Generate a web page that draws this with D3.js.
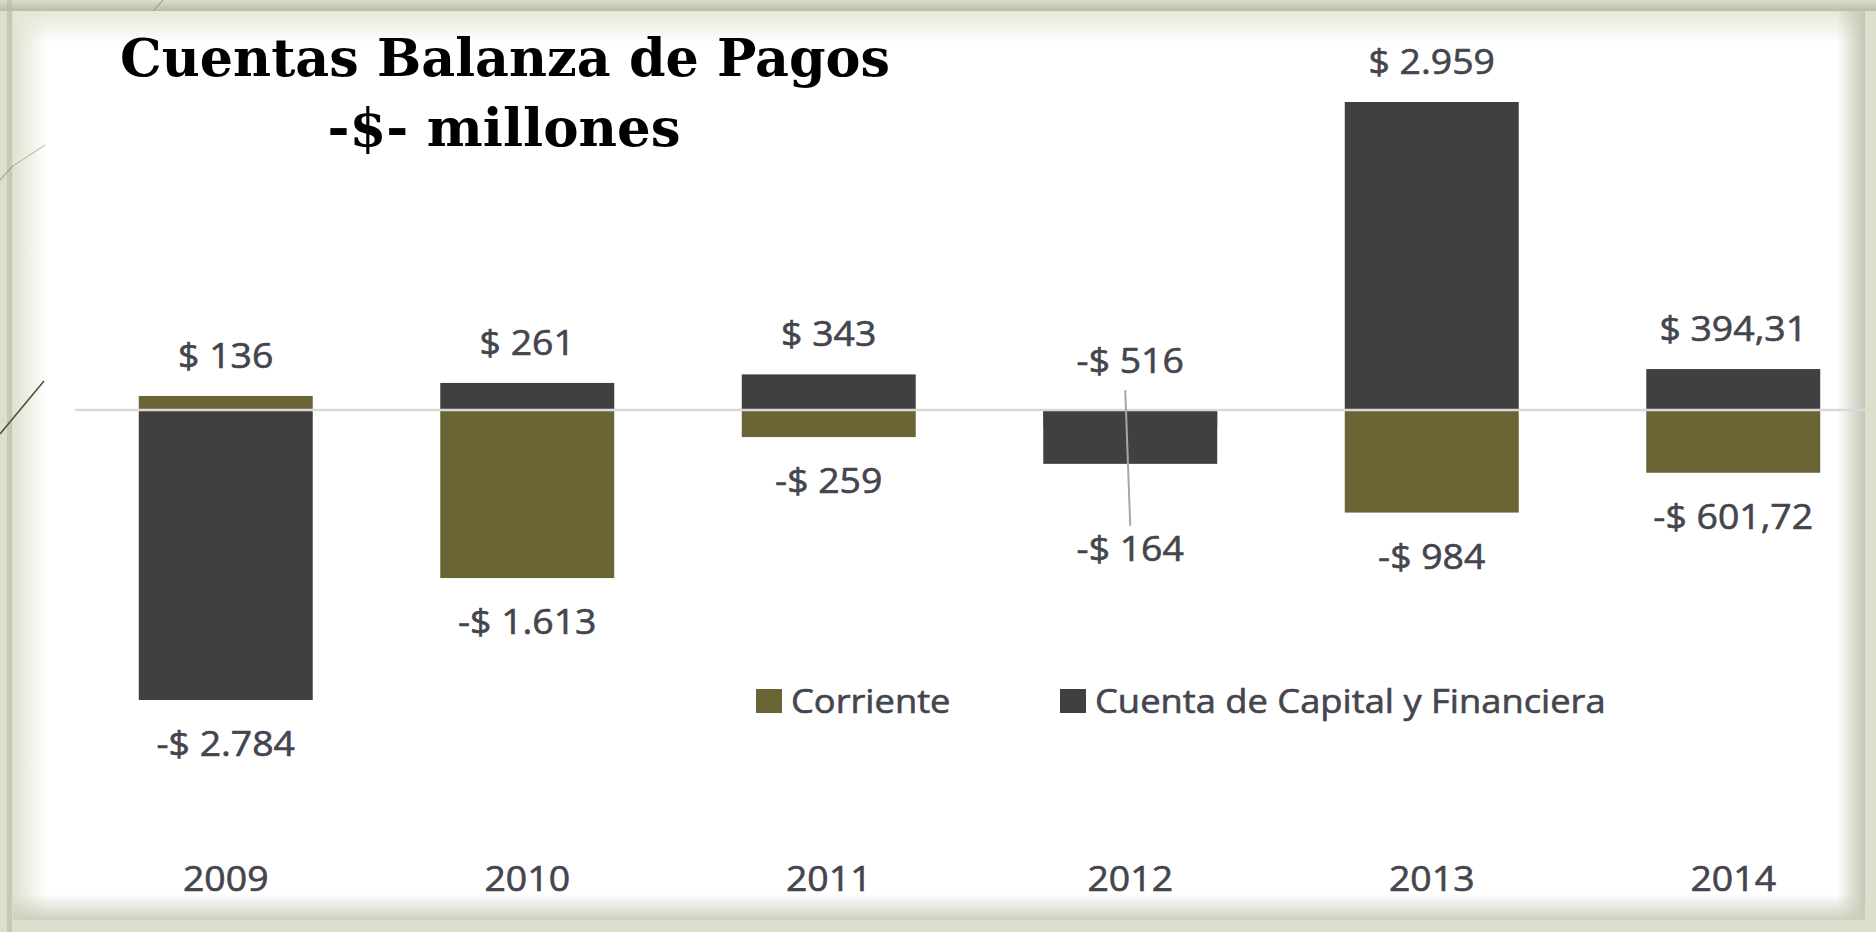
<!DOCTYPE html>
<html>
<head>
<meta charset="utf-8">
<script src="https://cdn.jsdelivr.net/npm/d3@7"></script>
<style>
html, body { margin: 0; padding: 0; background: #dcdfcc; }
svg { display: block; }
</style>
</head>
<body>
<svg id="chart"></svg>
<script>
var width = 1876;
var height = 932;

// chart values (millones de $)
var years = ["2009", "2010", "2011", "2012", "2013", "2014"];
var corriente = [136, -1613, -259, -164, -984, -601.72];
var capital = [-2784, 261, 343, -516, 2959, 394.31];
var seriesNames = ["Corriente", "Cuenta de Capital y Financiera"];
var seriesColors = ["#6b6535", "#404040"];

var svg = d3.select("#chart")
.attr("width", width)
.attr("height", height);

// frame + white panel with soft inner shadow
var defs = svg.append("defs");
function edgeGrad(id, x1, y1, x2, y2, c) {
	var g = defs.append("linearGradient").attr("id", id)
	.attr("x1", x1).attr("y1", y1).attr("x2", x2).attr("y2", y2);
	g.append("stop").attr("offset", "0%").attr("stop-color", c).attr("stop-opacity", 1);
	g.append("stop").attr("offset", "100%").attr("stop-color", c).attr("stop-opacity", 0);
}
edgeGrad("gl", 0, 0, 1, 0, "#dfe2d0");
edgeGrad("gt", 0, 0, 0, 1, "#e4e7d6");
edgeGrad("gr", 1, 0, 0, 0, "#c3c6b3");
edgeGrad("gb", 0, 1, 0, 0, "#cdd0be");
edgeGrad("gtop", 0, 1, 0, 0, "#b9bca6");

svg.append("rect").attr("width", width).attr("height", height).style("fill", "#dcdfcc");
svg.append("rect").attr("x", 0).attr("y", 0).attr("width", width).attr("height", 11)
.style("fill", "url(#gtop)");
svg.append("rect").attr("x", 7).attr("y", 0).attr("width", 5).attr("height", height)
.style("fill", "#b7baa5").style("opacity", 0.6);
svg.append("line").attr("x1", 163).attr("y1", 0).attr("x2", 0).attr("y2", 180)
.style("stroke", "#8a8a72").style("stroke-width", 1);

var panel = { x: 13, y: 11, w: 1852, h: 909 };
svg.append("rect").attr("x", panel.x).attr("y", panel.y)
.attr("width", panel.w).attr("height", panel.h).style("fill", "#ffffff");
svg.append("rect").attr("x", panel.x).attr("y", panel.y).attr("width", 34).attr("height", panel.h)
.style("fill", "url(#gl)");
svg.append("rect").attr("x", panel.x).attr("y", panel.y).attr("width", panel.w).attr("height", 32)
.style("fill", "url(#gt)");
svg.append("rect").attr("x", panel.x + panel.w - 28).attr("y", panel.y).attr("width", 28).attr("height", panel.h)
.style("fill", "url(#gr)");
svg.append("rect").attr("x", panel.x).attr("y", panel.y + panel.h - 26).attr("width", panel.w).attr("height", 26)
.style("fill", "url(#gb)");
svg.append("line").attr("x1", 45).attr("y1", 145).attr("x2", 13).attr("y2", 166)
.style("stroke", "#b0b09a").style("stroke-width", 1);
svg.append("line").attr("x1", 44).attr("y1", 381).attr("x2", 0).attr("y2", 434)
.style("stroke", "#4e4c3a").style("stroke-width", 1.5);

// scales
var x = d3.scaleBand()
.domain(years)
.range([75, 1884])
.paddingInner(0.423)
.paddingOuter(0.2115);

var y = d3.scaleLinear()
.domain([-2784, 2959])
.range([700, 102]);

var locale = d3.formatLocale({ decimal: ",", thousands: ".", grouping: [3], currency: ["$", ""] });
var fmtInt = locale.format(",.0f");
var fmtDec = locale.format(",.2f");
function money(v) {
	var s = Number.isInteger(v) ? fmtInt(Math.abs(v)) : fmtDec(Math.abs(v));
	return (v < 0 ? "-$ " : "$ ") + s;
}

// the original text is a bit wider than Open Sans, stretch it
function widen(sel, k) {
	sel.each(function () {
		var len = this.getComputedTextLength();
		d3.select(this).attr("textLength", len * k).attr("lengthAdjust", "spacingAndGlyphs");
	});
}

var textColor = "#44454d";
var labelFont = "'Open Sans', sans-serif";

var rows = years.map(function (yr, i) {
	return { year: yr, values: [corriente[i], capital[i]] };
});

// bars: Corriente behind, Capital in front (full overlap)
seriesNames.forEach(function (name, s) {
	svg.append("g").selectAll("rect")
	.data(rows)
	.enter().append("rect")
	.attr("x", function (d) { return x(d.year); })
	.attr("width", x.bandwidth())
	.attr("y", function (d) { return y(Math.max(0, d.values[s])); })
	.attr("height", function (d) { return Math.abs(y(d.values[s]) - y(0)); })
	.style("fill", seriesColors[s]);
});

// zero line
svg.append("line")
.attr("x1", x.range()[0]).attr("x2", panel.x + panel.w)
.attr("y1", y(0)).attr("y2", y(0))
.style("stroke", "#d9d9d9").style("stroke-width", 2.5);

// data labels
var labels = [];
rows.forEach(function (d) {
	d.values.forEach(function (v, s) {
		labels.push({ year: d.year, v: v, s: s, row: d });
	});
});
function labelY(l) {
	if (l.row.values.every(function (v) { return v < 0; })) {
		// both negative (2012): larger one goes above the axis, other one below with a leader
		var lo = d3.min(l.row.values);
		if (l.v === lo) return y(0) - 37;
		return y(lo) + 97;
	}
	return l.v >= 0 ? y(l.v) - 28 : y(l.v) + 56;
}
svg.append("g").selectAll("text")
.data(labels)
.enter().append("text")
.attr("x", function (d) { return x(d.year) + x.bandwidth() / 2; })
.attr("y", labelY)
.style("font-family", labelFont)
.style("font-size", "34px")
.style("fill", textColor)
.style("stroke", textColor)
.style("stroke-width", 0.6)
.style("text-anchor", "middle")
.text(function (d) { return money(d.v); })
.call(widen, 1.1);

// leader line for the 2012 labels
var both = rows.filter(function (d) { return d.values.every(function (v) { return v < 0; }); });
svg.append("g").selectAll("line")
.data(both)
.enter().append("line")
.attr("x1", function (d) { return x(d.year) + x.bandwidth() / 2 - 5; })
.attr("x2", function (d) { return x(d.year) + x.bandwidth() / 2; })
.attr("y1", y(0) - 20)
.attr("y2", function (d) { return y(d3.min(d.values)) + 62; })
.style("stroke", "#a6a6a6").style("stroke-width", 2);

// year axis
var axis = svg.append("g")
.attr("transform", "translate(0," + 891 + ")")
.call(d3.axisBottom(x).tickSize(0).tickPadding(0));
axis.select(".domain").remove();
axis.selectAll("text")
.attr("y", 0).attr("dy", null)
.style("font-family", labelFont)
.style("font-size", "34px")
.style("fill", textColor)
.style("stroke", textColor)
.style("stroke-width", 0.6)
.call(widen, 1.1);

// legend
var legendX = [756, 1060];
var legend = svg.append("g").selectAll("g")
.data(seriesNames)
.enter().append("g")
.attr("transform", function (d, i) { return "translate(" + legendX[i] + ",689)"; });
legend.append("rect")
.attr("width", 26).attr("height", 24)
.style("fill", function (d, i) { return seriesColors[i]; });
legend.append("text")
.attr("x", 35).attr("y", 24)
.style("font-family", labelFont)
.style("font-size", "33px")
.style("fill", textColor)
.style("stroke", textColor)
.style("stroke-width", 0.6)
.text(function (d) { return d; })
.call(widen, 1.1);

// title
var title = svg.append("g").style("font-family", "'DejaVu Serif', serif")
.style("font-weight", "bold").style("fill", "#000000");
title.append("text")
.attr("x", 505).attr("y", 76)
.attr("text-anchor", "middle")
.attr("textLength", 770).attr("lengthAdjust", "spacingAndGlyphs")
.style("font-size", "52px")
.text("Cuentas Balanza de Pagos");
title.append("text")
.attr("x", 504).attr("y", 146)
.attr("text-anchor", "middle")
.attr("textLength", 353).attr("lengthAdjust", "spacingAndGlyphs")
.style("font-size", "52px")
.text("-$- millones");
</script>
</body>
</html>
